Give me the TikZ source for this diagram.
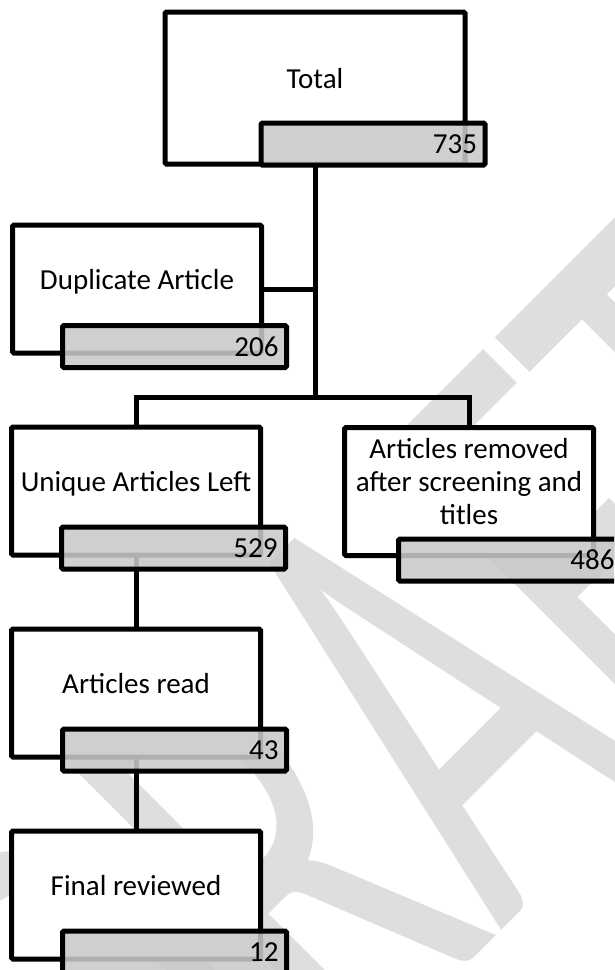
\documentclass[tikz,border=0pt]{standalone}
\usepackage{fontspec}
\setmainfont{Carlito}
\usepackage{graphicx}
\usetikzlibrary{backgrounds}
\definecolor{barfill}{RGB}{201,201,201}
\definecolor{wmarkgray}{RGB}{222,222,222}

\begin{document}
\begin{tikzpicture}[x=1pt, y=-1pt,
  box/.style={draw, fill=white, line width=5pt, rounded corners=1.5pt, outer sep=0pt, inner sep=0pt,
    minimum width=249pt, minimum height=128pt, text height=20pt, text depth=20pt,
    align=center, font=\fontsize{29}{33}\selectfont},
  countbar/.style={draw, fill=barfill, fill opacity=0.875, text opacity=1, line width=5pt,
    rounded corners=1.5pt, outer sep=0pt, inner sep=0pt, minimum width=224pt, minimum height=42pt,
    text width=208pt, align=right, font=\fontsize{29}{33}\selectfont},
  link/.style={line width=5pt}]
\useasboundingbox (0,0) rectangle (614,970);
\clip (0,0) rectangle (614,970);

\node[box, minimum width=300pt, minimum height=152pt] (total) at (315,88) {Total};
\node[countbar] (totalnum) at (373,144) {735};

\node[box] (dup) at (137,289) {Duplicate Article};
\node[countbar] (dupnum) at (174.5,346.5) {206};

\node[box] (uniq) at (136,491) {Unique Articles Left};
\node[countbar] (uniqnum) at (173.5,548) {529};

\node[box, text height=86pt] (removed) at (469,491.5) {Articles removed\\after screening and\\titles};
\node[countbar] (removednum) at (510.5,560) {486};

\node[box] (read) at (136,693) {Articles read};
\node[countbar] (readnum) at (174.5,750) {43};

\node[box] (final) at (136,895) {Final reviewed};
\node[countbar] (finalnum) at (174.5,952) {12};

\begin{scope}[on background layer]
\node[text=wmarkgray, rotate=45, anchor=base, inner sep=0pt, font=\fontsize{660}{660}\selectfont] (draft) at (552,880) {\scalebox{0.6}[1]{DRAFT}};
\coordinate (split) at (315,397);
\draw[link] (total.south) -- (split);
\draw[link] (dup.east) -- (dup.east -| split);
\draw[link] (uniq.north) |- (split) -| (removed.north);
\draw[link] (uniq.south) -- (read.north);
\draw[link] (read.south) -- (final.north);
\end{scope}
\end{tikzpicture}
\end{document}
